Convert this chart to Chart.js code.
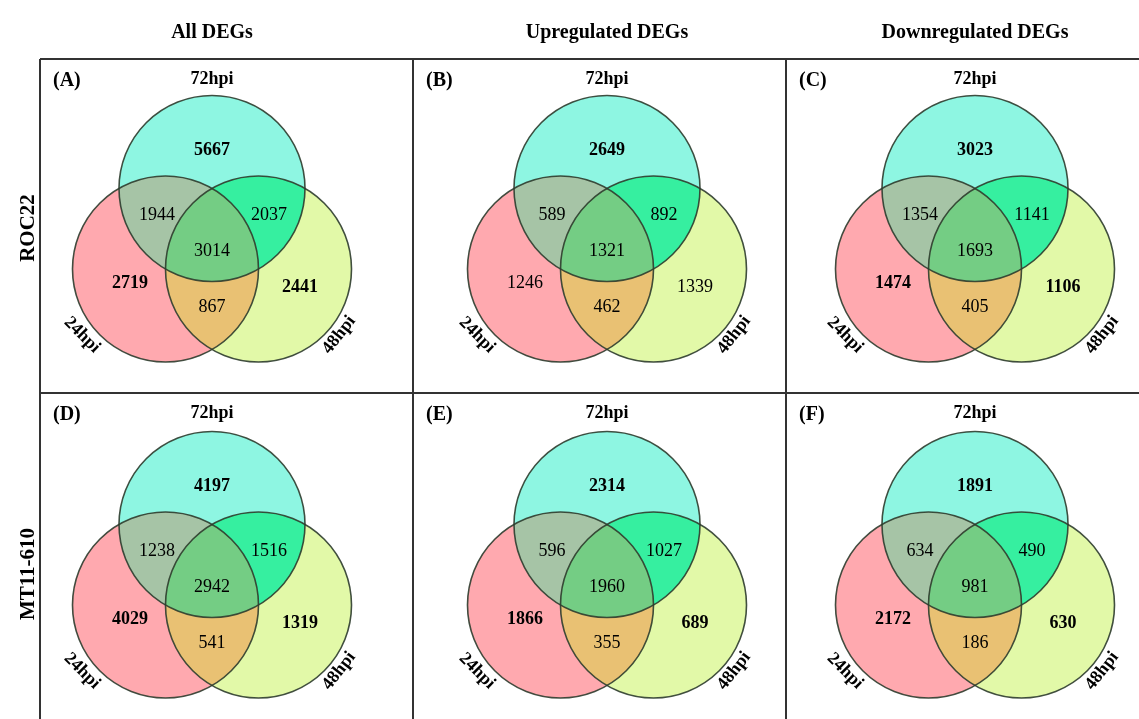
<!DOCTYPE html>
<html>
<head>
<meta charset="utf-8">
<script src="https://cdn.jsdelivr.net/npm/chart.js@4/dist/chart.umd.min.js"></script>
<style>
  html, body { margin: 0; padding: 0; background: #fff; }
  #venn { display: block; }
</style>
</head>
<body>
<canvas id="venn" width="1139" height="719"></canvas>
<script>
// data
const columnTitles = ['All DEGs', 'Upregulated DEGs', 'Downregulated DEGs'];
const rowTitles = ['ROC22', 'MT11-610'];
const panelLetters = ['(A)', '(B)', '(C)', '(D)', '(E)', '(F)'];
const setNames = ['24hpi', '72hpi', '48hpi'];

// region order: 72 only, 24&72, 72&48, all three, 24 only, 48 only, 24&48
const countsA = [5667, 1944, 2037, 3014, 2719, 2441, 867];
const countsB = [2649, 589, 892, 1321, 1246, 1339, 462];
const countsC = [3023, 1354, 1141, 1693, 1474, 1106, 405];
const countsD = [4197, 1238, 1516, 2942, 4029, 1319, 541];
const countsE = [2314, 596, 1027, 1960, 1866, 689, 355];
const countsF = [1891, 634, 490, 981, 2172, 630, 186];
const panelCounts = [countsA, countsB, countsC, countsD, countsE, countsF];

// layout (pixels of the page)
const W = 1139, H = 719;
const colX = [212, 607, 975];
const rowBase = [269, 605];
const radius = 93;
const frameLeft = 40, frameTop = 59, rowDiv = 393, colDiv = [413, 786];

// which side counts are bold (panel B has plain ones)
const sideBold = [true, false, true, true, true, true];

const colors = {
  L: '#ffa9af', T: '#8ef6e2', R: '#e2f9a8',
  LT: '#a6c4a6', TR: '#36efa0', LR: '#e9c173', LTR: '#74cd84'
};

function panelCenter(p) {
  return { x: colX[p % 3], y: rowBase[Math.floor(p / 3)] };
}

// one dataset per time point, one circle per panel
const circleOffsets = [[-46.5, 0], [0, -80.5], [46.5, 0]];
const datasets = setNames.map((name, k) => ({
  label: name,
  data: panelCounts.map((c, p) => {
    const pc = panelCenter(p);
    return { x: pc.x + circleOffsets[k][0], y: pc.y + circleOffsets[k][1], r: radius };
  }),
  backgroundColor: 'rgba(0,0,0,0)',
  borderColor: 'rgba(45,60,45,0.9)',
  borderWidth: 1.6,
  clip: false
}));

const serif = '"Liberation Serif", "Times New Roman", serif';

const fillPlugin = {
  id: 'vennFill',
  beforeDatasetsDraw(chart) {
    const ctx = chart.ctx;
    const els = k => chart.getDatasetMeta(k).data;
    const path = el => {
      ctx.beginPath();
      ctx.arc(el.x, el.y, el.options.radius, 0, Math.PI * 2);
    };
    const fill = (el, color, clips) => {
      ctx.save();
      clips.forEach(c => { path(c); ctx.clip(); });
      path(el);
      ctx.fillStyle = color;
      ctx.fill();
      ctx.restore();
    };
    for (let p = 0; p < panelCounts.length; p++) {
      const L = els(0)[p], T = els(1)[p], R = els(2)[p];
      fill(L, colors.L, []);
      fill(T, colors.T, []);
      fill(R, colors.R, []);
      fill(T, colors.LT, [L]);
      fill(R, colors.TR, [T]);
      fill(R, colors.LR, [L]);
      fill(R, colors.LTR, [L, T]);
    }
  }
};

// label offsets from the panel centre, same order as the counts
const countOffsets = [[0, -119], [-55, -54], [57, -54], [0, -18], [-82, 14], [88, 18], [0, 38]];

const textPlugin = {
  id: 'vennText',
  afterDraw(chart) {
    const ctx = chart.ctx;
    const sx = v => chart.scales.x.getPixelForValue(v);
    const sy = v => chart.scales.y.getPixelForValue(v);
    ctx.save();

    // frame
    ctx.strokeStyle = '#333';
    ctx.lineWidth = 2;
    ctx.beginPath();
    ctx.moveTo(sx(frameLeft), sy(frameTop)); ctx.lineTo(sx(W), sy(frameTop));
    ctx.moveTo(sx(frameLeft), sy(frameTop)); ctx.lineTo(sx(frameLeft), sy(H));
    ctx.moveTo(sx(frameLeft), sy(rowDiv)); ctx.lineTo(sx(W), sy(rowDiv));
    colDiv.forEach(x => { ctx.moveTo(sx(x), sy(frameTop)); ctx.lineTo(sx(x), sy(H)); });
    ctx.stroke();

    ctx.fillStyle = '#000';
    ctx.textAlign = 'center';
    ctx.textBaseline = 'alphabetic';
    ctx.font = 'bold 20px ' + serif;
    columnTitles.forEach((t, i) => ctx.fillText(t, sx(colX[i]), sy(38)));

    ctx.font = 'bold 21px ' + serif;
    rowTitles.forEach((t, i) => {
      ctx.save();
      ctx.translate(sx(34), sy(i === 0 ? 228 : 574));
      ctx.rotate(-Math.PI / 2);
      ctx.textBaseline = 'alphabetic';
      ctx.fillText(t, 0, 0);
      ctx.restore();
    });

    ctx.textBaseline = 'middle';
    panelCounts.forEach((counts, p) => {
      const pc = panelCenter(p);
      const col = p % 3, row = Math.floor(p / 3);
      const top = row === 0 ? frameTop : rowDiv;

      ctx.textAlign = 'left';
      ctx.font = 'bold 20px ' + serif;
      ctx.fillText(panelLetters[p], sx((col === 0 ? frameLeft : colDiv[col - 1]) + 13), sy(top + 22));

      ctx.textAlign = 'center';
      ctx.font = 'bold 18px ' + serif;
      ctx.fillText(setNames[1], sx(pc.x), sy(top + 20));

      counts.forEach((v, k) => {
        const bold = k === 0 || ((k === 4 || k === 5) && sideBold[p]);
        ctx.font = (bold ? 'bold ' : '') + '18px ' + serif;
        ctx.fillText(String(v), sx(pc.x + countOffsets[k][0]), sy(pc.y + countOffsets[k][1]));
      });

      ctx.font = 'bold 18px ' + serif;
      ctx.save();
      ctx.translate(sx(pc.x - 130), sy(pc.y + 66));
      ctx.rotate(Math.PI / 4);
      ctx.fillText(setNames[0], 0, 0);
      ctx.restore();
      ctx.save();
      ctx.translate(sx(pc.x + 127), sy(pc.y + 66));
      ctx.rotate(-52 * Math.PI / 180);
      ctx.fillText(setNames[2], 0, 0);
      ctx.restore();
    });
    ctx.restore();
  }
};

new Chart(document.querySelector('#venn').getContext('2d'), {
  type: 'bubble',
  data: { datasets: datasets },
  options: {
    responsive: false,
    animation: false,
    devicePixelRatio: 1,
    events: [],
    layout: { padding: 0, autoPadding: false },
    plugins: { legend: { display: false }, tooltip: { enabled: false } },
    scales: {
      x: { type: 'linear', min: 0, max: W, display: false },
      y: { type: 'linear', min: 0, max: H, reverse: true, display: false }
    }
  },
  plugins: [fillPlugin, textPlugin]
});
</script>
</body>
</html>
